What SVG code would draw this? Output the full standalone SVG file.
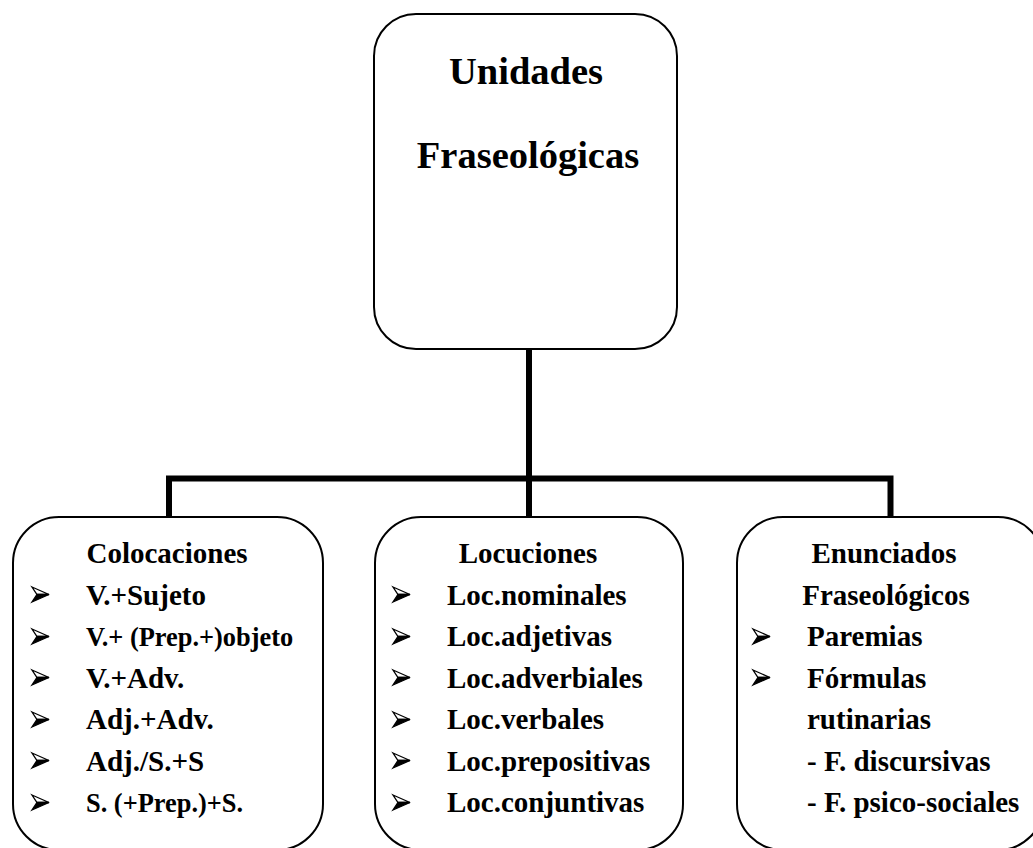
<svg xmlns="http://www.w3.org/2000/svg" width="1033" height="848" viewBox="0 0 1033 848">
  <style>
    .box { fill: #ffffff; stroke: #000000; stroke-width: 2; }
    .conn { fill: none; stroke: #000000; stroke-width: 6; stroke-linejoin: miter; stroke-linecap: butt; }
    text { font-family: "Liberation Serif", "Times New Roman", serif; font-weight: bold; fill: #000000; }
    .title { font-size: 38.5px; }
    .item { font-size: 29px; }
    .small { font-size: 26.4px; }
    .mid { text-anchor: middle; }
  </style>
  <defs>
    <g id="bullet">
      <path d="M0,0 L17,7.5 L5,7.5 Z" fill="#ffffff" stroke="#000000" stroke-width="1.3" stroke-linejoin="miter"/>
      <path d="M0,15 L17,7.5 L5,7.5 Z" fill="#000000" stroke="#000000" stroke-width="1.3" stroke-linejoin="miter"/>
    </g>
  </defs>
  <rect width="1033" height="848" fill="#ffffff"/>

  <g id="connectors">
    <path class="conn" d="M529,349 V517"/>
    <path class="conn" d="M169,517 V478.5 H890.5 V517"/>
  </g>

  <g id="node-unidades">
    <rect class="box" x="374" y="14" width="303" height="335" rx="42" ry="42"/>
    <text class="title mid" x="526" y="84">Unidades</text>
    <text class="title mid" x="528" y="168">Fraseológicas</text>
  </g>

  <g id="node-colocaciones">
    <rect class="box" x="13" y="517" width="310" height="333" rx="46" ry="46"/>
    <text class="item mid" x="167" y="563">Colocaciones</text>
    <use href="#bullet" x="32" y="587"/>
    <text class="item" x="86" y="605">V.+Sujeto</text>
    <use href="#bullet" x="32" y="629"/>
    <text class="small" x="86" y="646">V.+ (Prep.+)objeto</text>
    <use href="#bullet" x="32" y="670"/>
    <text class="item" x="86" y="688">V.+Adv.</text>
    <use href="#bullet" x="32" y="712"/>
    <text class="item" x="86" y="729">Adj.+Adv.</text>
    <use href="#bullet" x="32" y="753"/>
    <text class="item" x="86" y="771">Adj./S.+S</text>
    <use href="#bullet" x="32" y="795"/>
    <text class="small" x="86" y="812">S. (+Prep.)+S.</text>
  </g>

  <g id="node-locuciones">
    <rect class="box" x="375" y="517" width="308" height="333" rx="46" ry="46"/>
    <text class="item mid" x="528" y="563">Locuciones</text>
    <use href="#bullet" x="393" y="587"/>
    <text class="item" x="447" y="605">Loc.nominales</text>
    <use href="#bullet" x="393" y="629"/>
    <text class="item" x="447" y="646">Loc.adjetivas</text>
    <use href="#bullet" x="393" y="670"/>
    <text class="item" x="447" y="688">Loc.adverbiales</text>
    <use href="#bullet" x="393" y="712"/>
    <text class="item" x="447" y="729">Loc.verbales</text>
    <use href="#bullet" x="393" y="753"/>
    <text class="item" x="447" y="771">Loc.prepositivas</text>
    <use href="#bullet" x="393" y="795"/>
    <text class="item" x="447" y="812">Loc.conjuntivas</text>
  </g>

  <g id="node-enunciados">
    <rect class="box" x="737" y="517" width="307" height="333" rx="46" ry="46"/>
    <text class="item mid" x="884" y="563">Enunciados</text>
    <text class="item mid" x="886" y="605">Fraseológicos</text>
    <use href="#bullet" x="753" y="629"/>
    <text class="item" x="807" y="646">Paremias</text>
    <use href="#bullet" x="753" y="670"/>
    <text class="item" x="807" y="688">Fórmulas</text>
    <text class="item" x="807" y="729">rutinarias</text>
    <text class="item" x="807" y="771">- F. discursivas</text>
    <text class="item" x="807" y="812">- F. psico-sociales</text>
  </g>
</svg>
